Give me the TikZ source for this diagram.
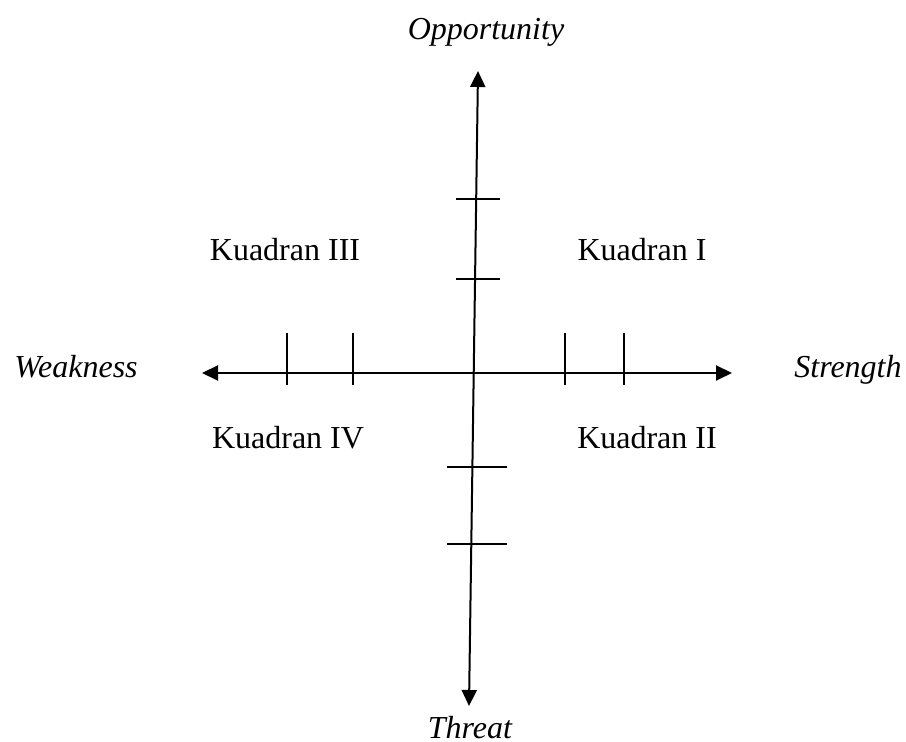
\documentclass[tikz,border=0pt]{standalone}
\usepackage{fontspec}
\setmainfont{Liberation Serif}
\usetikzlibrary{arrows.meta}
\tikzset{
  axis/.style={line width=1pt, {Triangle[length=8pt,width=7.5pt]}-{Triangle[length=8pt,width=7.5pt]}},
  tickmark/.style={line width=0.9pt},
  lbl/.style={font=\fontsize{16}{19}\selectfont},
  pole/.style={font=\fontsize{16}{19}\selectfont\itshape}
}

\begin{document}
\begin{tikzpicture}[x=0.5pt,y=-0.5pt]
            \useasboundingbox (0,0) rectangle (906,742);
            \coordinate (T) at (478,71);
            \coordinate (B) at (469,706);
            \coordinate (L) at (202,373);
            \coordinate (R) at (732,373);
            \node [pole] (Opp) at (486,32) {Opportunity};
            \node [pole] (Thr) at (470,728) {Threat};
            \node [pole, anchor=base] (Wea) at (76,378) {Weakness};
            \node [pole, anchor=base] (Str) at (848,378) {Strength};
            \node [lbl] (Q3) at (285,250) {Kuadran III};
            \node [lbl] (Q1) at (642,250) {Kuadran I};
            \node [lbl] (Q4) at (288,438) {Kuadran IV};
            \node [lbl] (Q2) at (647,438) {Kuadran II};

            \draw[axis] (B) -- (T);
            \draw[axis] (L) -- (R);
            \draw[tickmark] (287,333) -- (287,385);
            \draw[tickmark] (353,333) -- (353,385);
            \draw[tickmark] (565,333) -- (565,385);
            \draw[tickmark] (624,333) -- (624,385);
            \draw[tickmark] (456,199) -- (500,199);
            \draw[tickmark] (456,279) -- (500,279);
            \draw[tickmark] (447,467) -- (507,467);
            \draw[tickmark] (447,544) -- (507,544);
        \end{tikzpicture}
\end{document}
